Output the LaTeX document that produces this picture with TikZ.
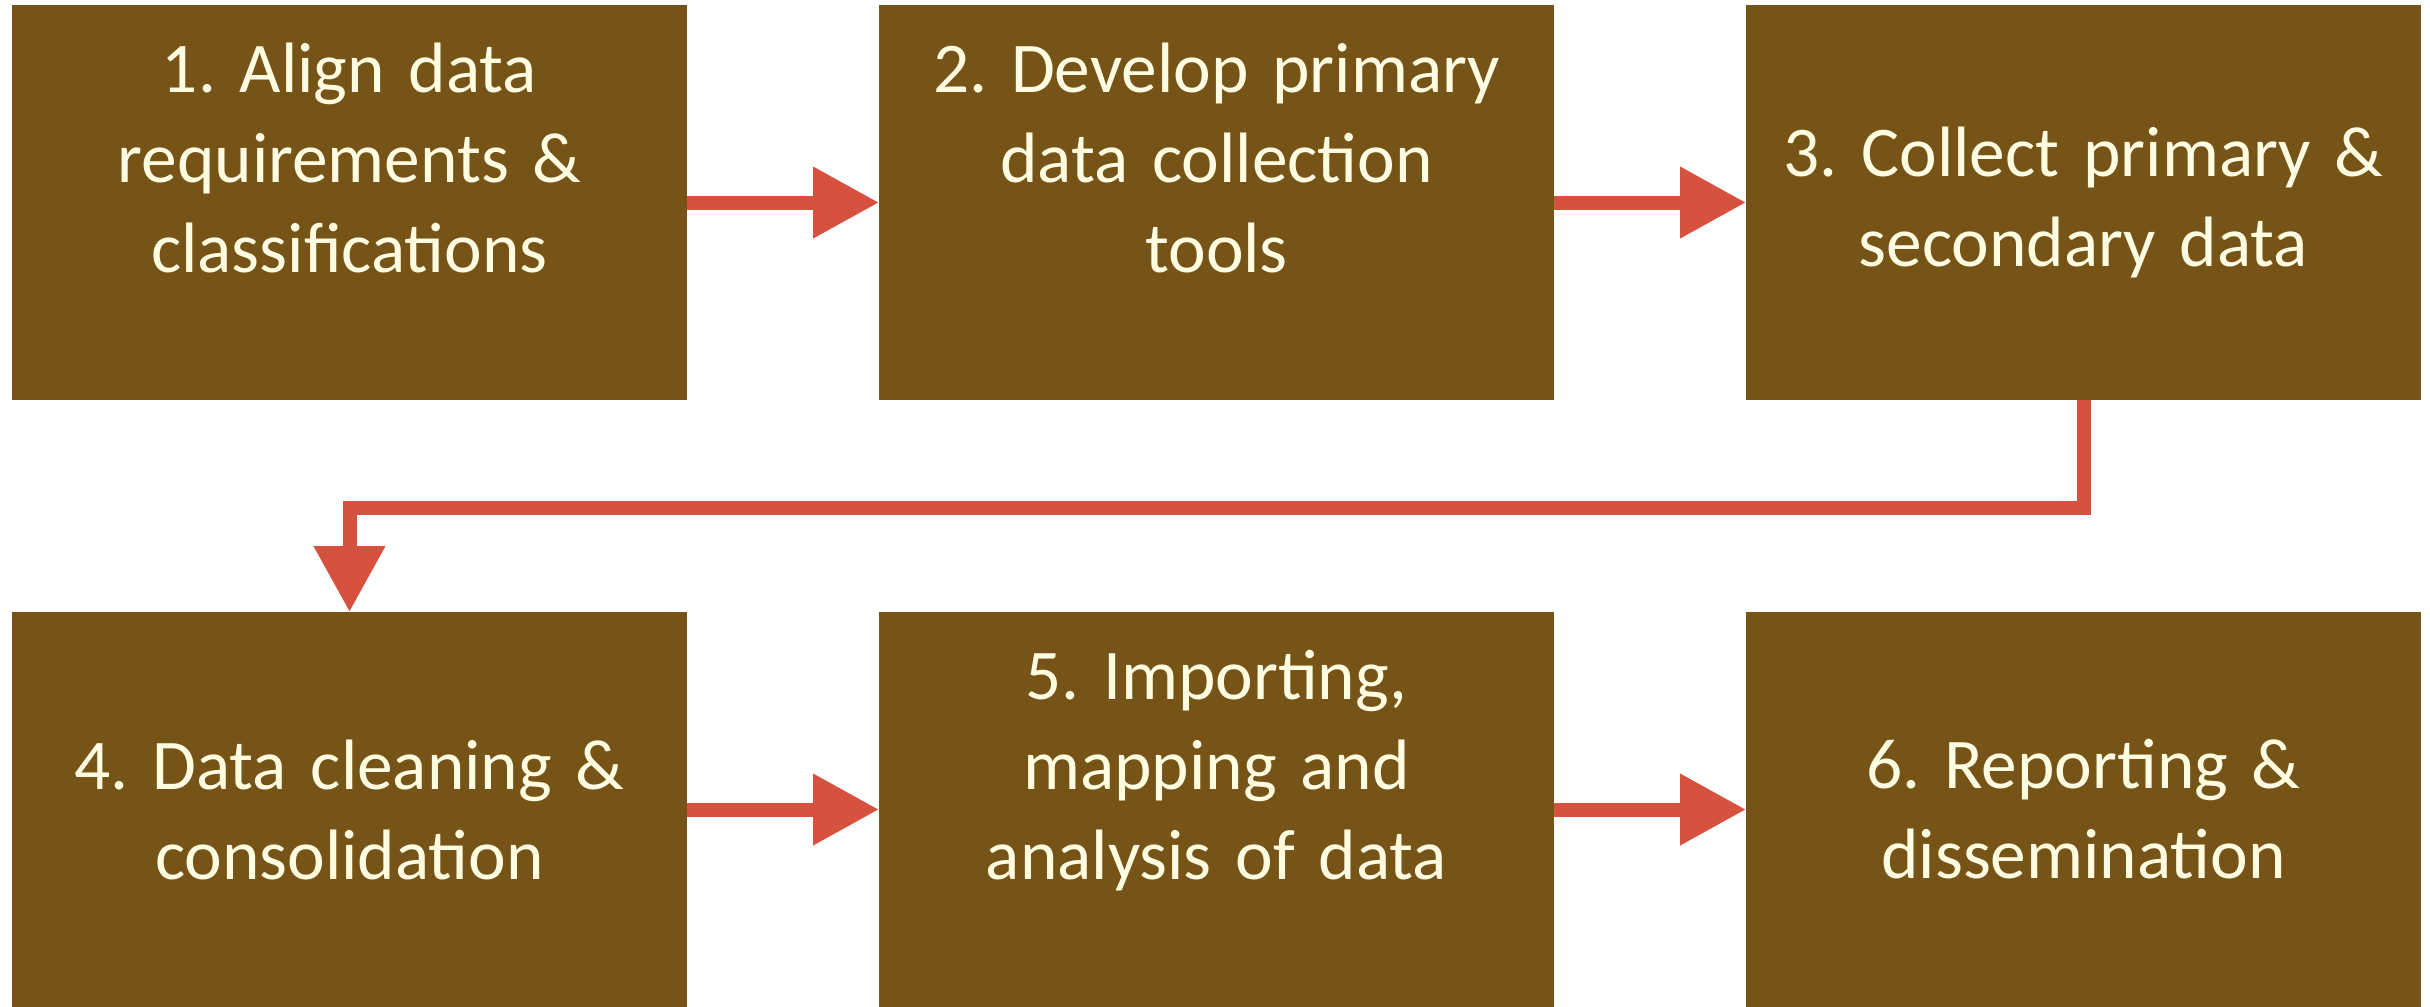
\documentclass[tikz,border=0pt]{standalone}
\usepackage{fontspec}
\setmainfont{Carlito}
\frenchspacing
\usetikzlibrary{arrows.meta}
\usetikzlibrary{positioning}

\definecolor{stepbrown}{RGB}{118,84,24}
\definecolor{flowred}{RGB}{214,82,62}
\definecolor{cream}{RGB}{255,252,226}

\tikzset{
  stage/.style={fill=stepbrown, text=cream, minimum width=6.75cm, minimum height=3.95cm,
    text width=6.4cm, align=center, inner sep=0pt, outer sep=0pt,
    font=\fontsize{20.3}{25.6}\selectfont},
  flow/.style={draw=flowred, line width=0.14cm, line join=miter,
    -{Triangle[length=0.66cm, width=0.68cm]}}
}

\begin{document}
\begin{tikzpicture}[node distance=2.12cm and 1.92cm]
\useasboundingbox (0,0) rectangle (24.3,10.06);
%first row
\node[stage] (Align) at (3.495,8.035) {1. Align data\\requirements \&\\classifications\\\mbox{}};
\node[stage, right=of Align] (Develop) {2. Develop primary\\data collection\\tools\\\mbox{}};
\node[stage, right=of Develop] (Collect) {3. Collect primary \&\\secondary data};
%second row
\node[stage, below=of Align] (Clean) {4. Data cleaning \&\\consolidation};
\node[stage, right=of Clean] (Import) {5. Importing,\\mapping and\\analysis of data\\\mbox{}};
\node[stage, right=of Import] (Report) {6. Reporting \&\\dissemination};

\draw[flow] (Align) -- (Develop);
\draw[flow] (Develop) -- (Collect);
\draw[flow] (Collect.south) -- ++(0,-1.08) -| (Clean.north);
\draw[flow] (Clean) -- (Import);
\draw[flow] (Import) -- (Report);

\end{tikzpicture}
\end{document}
